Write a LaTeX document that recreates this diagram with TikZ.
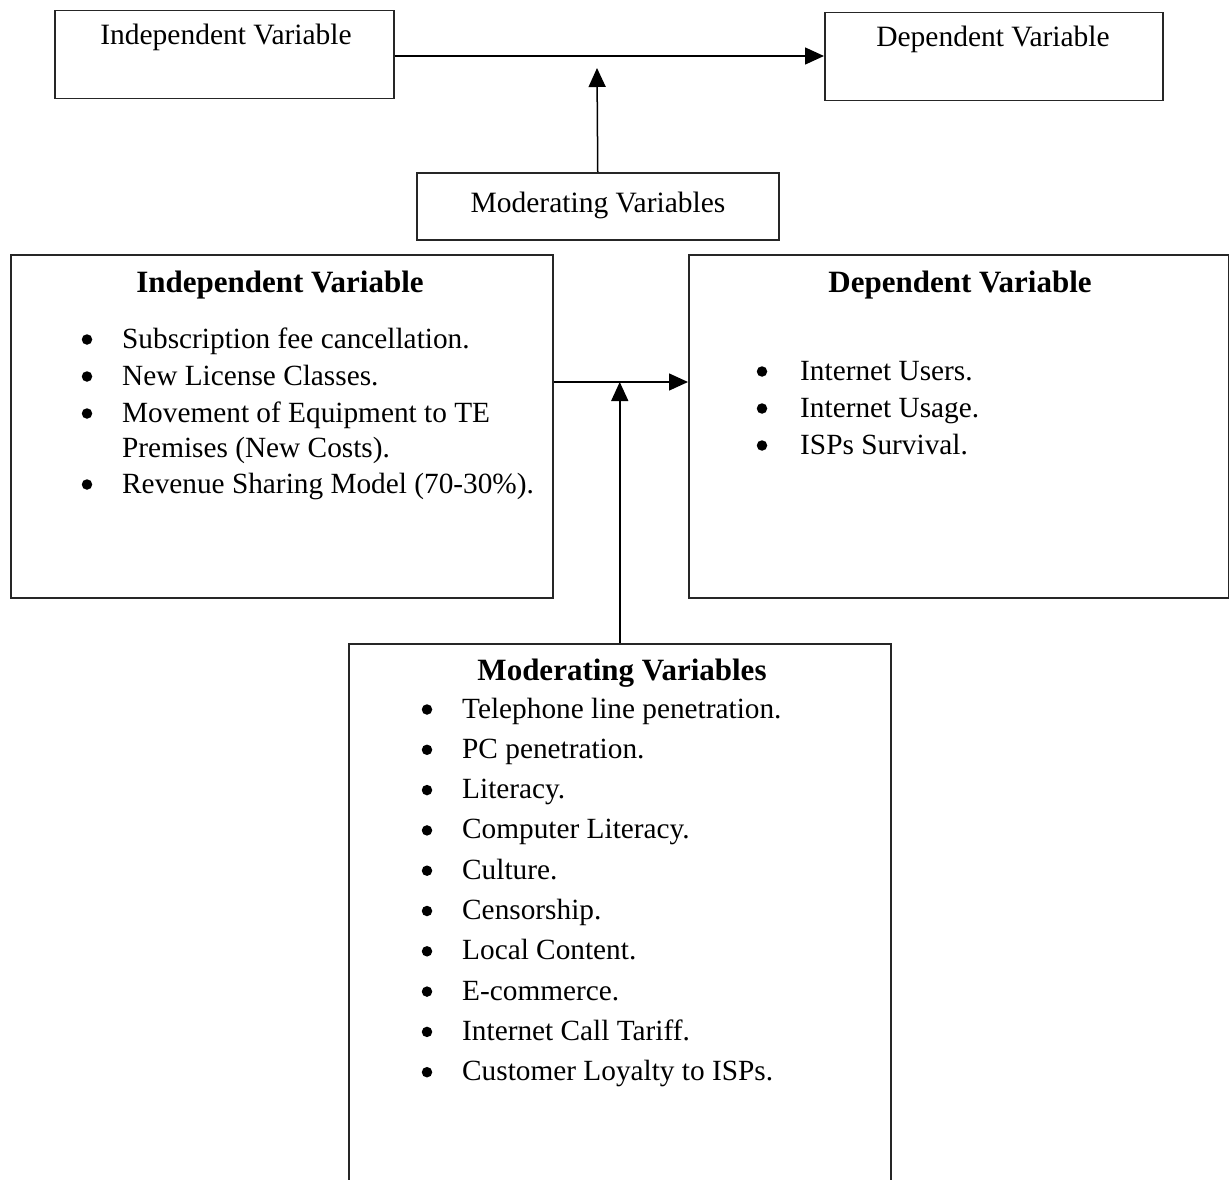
\documentclass[tikz,border=0pt]{standalone}
\usepackage{fontspec}
\setmainfont{Liberation Serif}
\usetikzlibrary{arrows.meta}
\begin{document}
\begin{tikzpicture}[x=1pt,y=-1pt,
  box/.style={draw=black!85, line width=1.5pt, rectangle, inner sep=0pt, anchor=north west},
  lbl/.style={font=\fontsize{29.5}{34}\selectfont, inner sep=0pt, anchor=base},
  hdr/.style={font=\fontsize{31}{36}\selectfont\bfseries, inner sep=0pt, anchor=base},
  item/.style={font=\fontsize{29.3}{34}\selectfont, inner sep=0pt, anchor=base west},
  dot/.style={circle, fill=black, inner sep=0pt, minimum size=10.5pt},
  arr/.style={line width=1.5pt, -{Triangle[length=19pt,width=17pt]}}]
\useasboundingbox (0,0) rectangle (1229,1180);
\clip (0,0) rectangle (1229,1180);
% top schematic
\node[box, minimum width=339pt, minimum height=88pt] (iv1) at (54,10) {};
\node[lbl] (iv1t) at (226,45) {Independent Variable};
\node[box, minimum width=338pt, minimum height=88pt] (dv1) at (824,12) {};
\node[lbl] (dv1t) at (993,47) {Dependent Variable};
\node[box, minimum width=362pt, minimum height=67pt] (mod1) at (416,172) {};
\node[lbl] (mod1t) at (598,212) {Moderating Variables};
\coordinate (a1) at (iv1.east |- 0,56);
\draw[arr] (a1) -- (a1 -| dv1.west);
\coordinate (t1) at (597,68);
\draw[arr] (mod1.north) -- (t1);
% detailed boxes
\node[box, minimum width=542pt, minimum height=343pt] (ivb) at (10,254) {};
\node[box, minimum width=540pt, minimum height=343pt] (dvb) at (688,254) {};
\node[box, minimum width=542pt, minimum height=600pt] (modb) at (348,643) {};
\coordinate (h1) at (ivb.east |- 0,382);
\draw[arr] (h1) -- (h1 -| dvb.west);
\draw[arr] (modb.north) -- (modb.north |- h1);
% headers
\node[hdr] (ivbh) at (280,292) {Independent Variable};
\node[hdr] (dvbh) at (960,292) {Dependent Variable};
\node[hdr] (modbh) at (622,680) {Moderating Variables};
% independent list
\foreach \yy/\t/\n in {348/Subscription fee cancellation./1, 385/New License Classes./2, 422/Movement of Equipment to TE/3, 493/Revenue Sharing Model (70-30\%)./5}{
  \node[dot] (ivd\n) at (87,\yy-8.5) {};
  \node[item] (ivi\n) at (122,\yy) {\t};
}
\node[item] (ivi4) at (122,457) {Premises (New Costs).};
% dependent list
\foreach \yy/\t/\n in {380/Internet Users./1, 417/Internet Usage./2, 454/ISPs Survival./3}{
  \node[dot] (dvd\n) at (762,\yy-8.5) {};
  \node[item] (dvi\n) at (800,\yy) {\t};
}
% moderating list
\foreach \t [count=\n from 0] in {Telephone line penetration., PC penetration., Literacy., Computer Literacy., Culture., Censorship., Local Content., E-commerce., Internet Call Tariff., Customer Loyalty to ISPs.}{
  \node[dot] (md\n) at (427,{718+40.3*\n-8.5}) {};
  \node[item] (mi\n) at (462,{718+40.3*\n}) {\t};
}
\end{tikzpicture}
\end{document}
